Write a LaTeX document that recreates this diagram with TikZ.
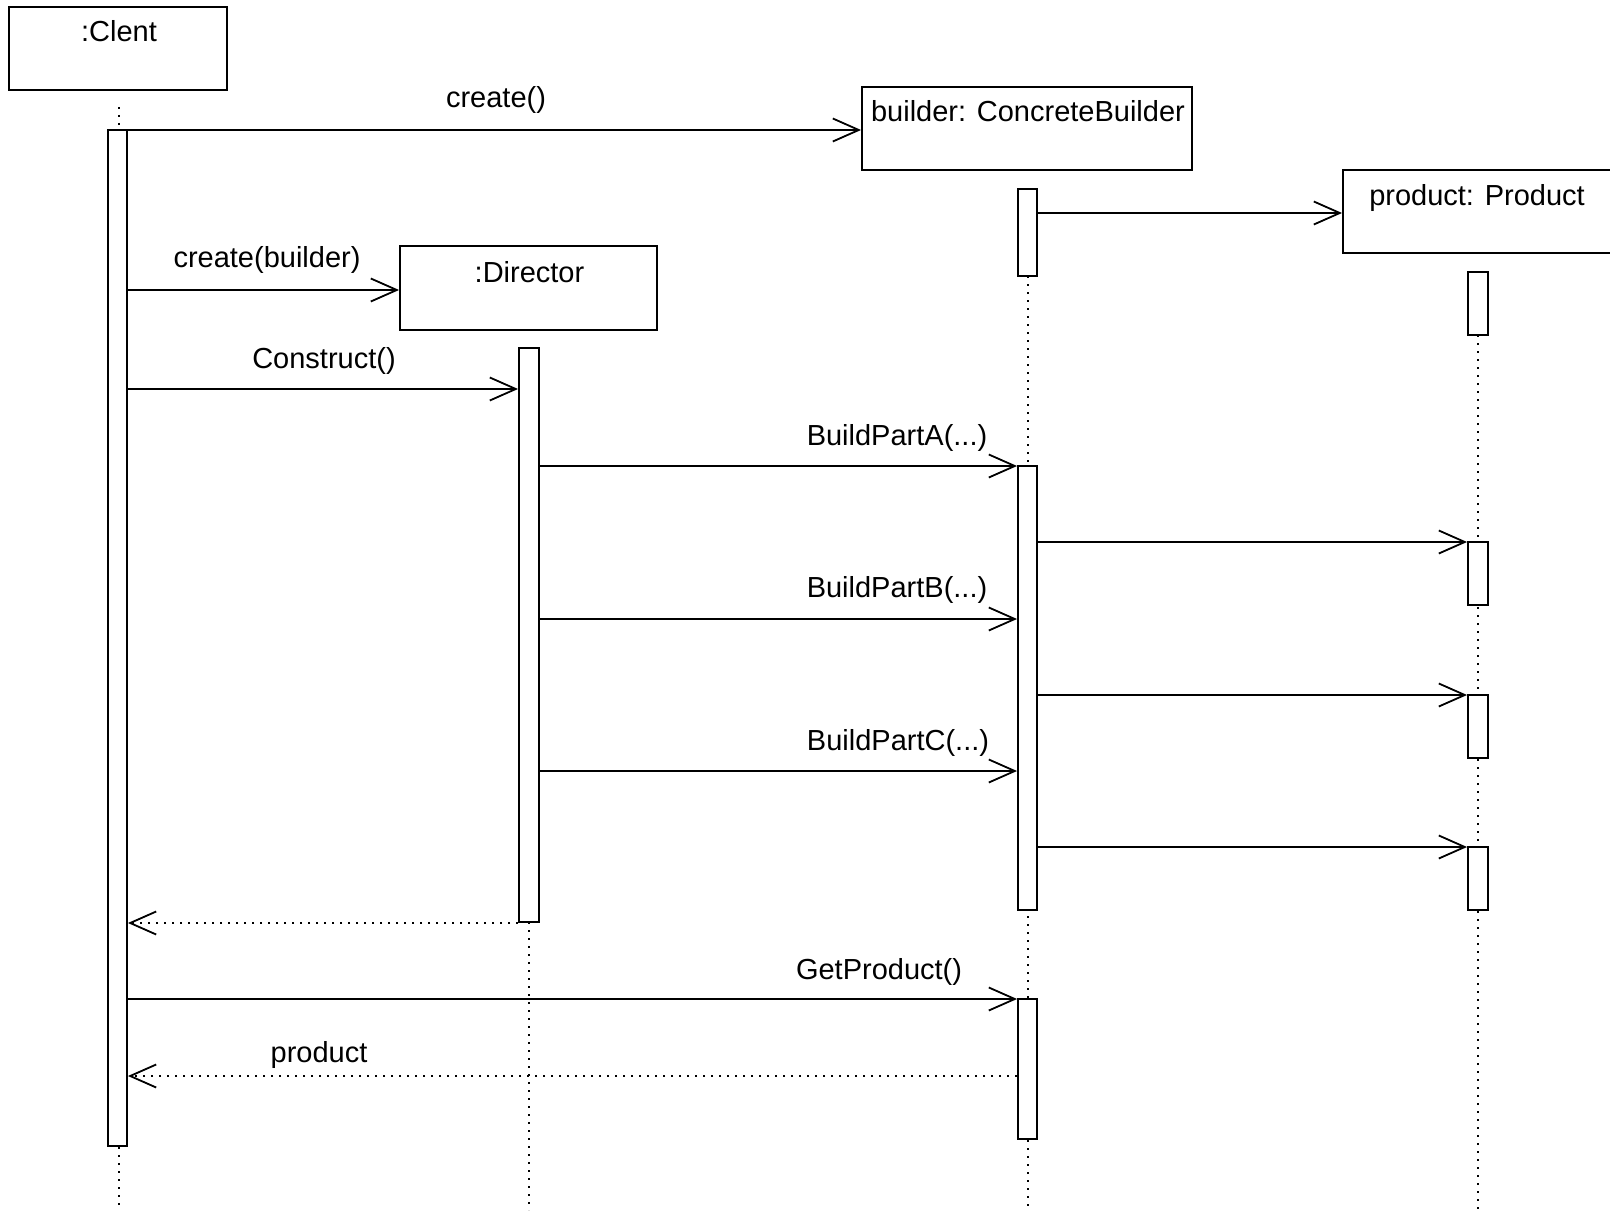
\documentclass[tikz,border=0pt]{standalone}
\usepackage{fontspec}
\setmainfont{Liberation Sans}
\usetikzlibrary{arrows.meta,fit}
\begin{document}
\begin{tikzpicture}[x=1pt,y=-1pt,
  every node/.style={font=\fontsize{29}{34}\selectfont},
  obj/.style={draw, line width=1.9pt, inner sep=0pt},
  act/.style={draw, fill=white, line width=1.9pt, inner sep=0pt},
  lbl/.style={anchor=base, inner sep=0pt},
  msg/.style={line width=1.8pt, -{Straight Barb[length=26pt,width=23pt,line width=1.8pt]}},
  ret/.style={msg, dash pattern=on 2pt off 6pt},
  life/.style={line width=1.8pt, dash pattern=on 2pt off 6pt}]

\useasboundingbox (0,0) rectangle (1610,1212);
\fill[white] (0,0) rectangle (1610,1212);
\clip (0,0) rectangle (1610,1212);

% object boxes
\node[obj, fit={(9,7) (227,90)}] (client) {};
\node[obj, fit={(862,87) (1192,170)}] (builder) {};
\node[obj, fit={(400,246) (657,330)}] (director) {};
\node[obj, fit={(1343,170) (1630,253)}] (product) {};

\node[lbl] (lclient) at (119,42) {:Clent};
\node[lbl] (lbuilder) at (1028,122) {builder: ConcreteBuilder};
\node[lbl] (lproduct) at (1477,205) {product: Product};
\node[lbl] (ldirector) at (529.5,282) {:Director};

% lifelines
\draw[life] (119,107) -- (119,1207);
\draw[life] (529,922) -- (529,1210);
\draw[life] (1028,276) -- (1028,1207);
\draw[life] (1478,335) -- (1478,1209);

% activations
\node[act, fit={(108,130) (127,1146)}] (cact) {};
\node[act, fit={(519,348) (539,922)}] (dact) {};
\node[act, fit={(1018,189) (1037,276)}] (bact1) {};
\node[act, fit={(1018,466) (1037,910)}] (bact2) {};
\node[act, fit={(1018,999) (1037,1139)}] (bact3) {};
\node[act, fit={(1468,272) (1488,335)}] (pact1) {};
\node[act, fit={(1468,542) (1488,605)}] (pact2) {};
\node[act, fit={(1468,695) (1488,758)}] (pact3) {};
\node[act, fit={(1468,847) (1488,910)}] (pact4) {};

% message levels
\coordinate (y1) at (0,130);
\coordinate (y2) at (0,290);
\coordinate (y3) at (0,389);
\coordinate (y4) at (0,213);
\coordinate (y5) at (0,466);
\coordinate (y6) at (0,542);
\coordinate (y7) at (0,619);
\coordinate (y8) at (0,695);
\coordinate (y9) at (0,771);
\coordinate (y10) at (0,847);
\coordinate (y11) at (0,923);
\coordinate (y12) at (0,999);
\coordinate (y13) at (0,1076);

% messages
\draw[msg] (cact.east |- y1) -- (builder.west |- y1);
\draw[msg] (cact.east |- y2) -- (director.west |- y2);
\draw[msg] (cact.east |- y3) -- (dact.west |- y3);
\draw[msg] (bact1.east |- y4) -- (product.west |- y4);
\draw[msg] (dact.east |- y5) -- (bact2.west |- y5);
\draw[msg] (bact2.east |- y6) -- (pact2.west |- y6);
\draw[msg] (dact.east |- y7) -- (bact2.west |- y7);
\draw[msg] (bact2.east |- y8) -- (pact3.west |- y8);
\draw[msg] (dact.east |- y9) -- (bact2.west |- y9);
\draw[msg] (bact2.east |- y10) -- (pact4.west |- y10);
\draw[ret] (dact.west |- y11) -- (cact.east |- y11);
\draw[msg] (cact.east |- y12) -- (bact3.west |- y12);
\draw[ret] (bact3.west |- y13) -- (cact.east |- y13);

% message labels
\node[lbl] (l1) at (496,108) {create()};
\node[lbl] (l2) at (267,267) {create(builder)};
\node[lbl] (l3) at (324,368) {Construct()};
\node[lbl] (l5) at (897,445) {BuildPartA(...)};
\node[lbl] (l7) at (897,597) {BuildPartB(...)};
\node[lbl] (l9) at (898,750) {BuildPartC(...)};
\node[lbl] (l12) at (879,979) {GetProduct()};
\node[lbl] (l13) at (319,1062) {product};
\end{tikzpicture}
\end{document}
